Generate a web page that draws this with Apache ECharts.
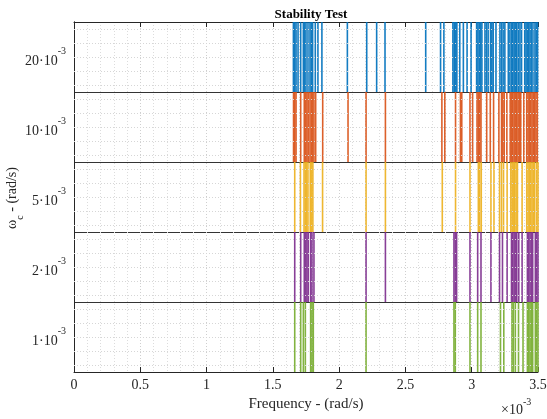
<!DOCTYPE html>
<html>
<head>
<meta charset="utf-8">
<script src="https://cdn.jsdelivr.net/npm/echarts@6/dist/echarts.min.js"></script>
<style>
  html, body { margin: 0; padding: 0; background: #fff; }
  #chart { width: 547px; height: 419px; }
</style>
</head>
<body>
<div id="chart"></div>
<script>
// frequencies in units of 1e-3 rad/s, one list per omega_c band
const bandLabels = ['1', '2', '5', '10', '20'];   // bottom -> top, x 10^-3
const bandColors = ['#77AC30', '#7E2F8E', '#EDB120', '#D95319', '#0072BD'];

const freq1 = [1.665, 1.71, 1.73, 1.745, 1.785, 1.795, 1.805, 2.203,
  2.866, 2.876, 2.987, 3.045, 3.07, 3.217, 3.242, 3.304, 3.314, 3.329, 3.353,
  3.387, 3.42, 3.43, 3.44, 3.45, 3.46, 3.48, 3.49, 3.5];
const freq2 = [1.665, 1.71, 1.737, 1.747, 1.757, 1.767, 1.785, 1.795, 1.81,
  2.203, 2.349, 2.866, 2.876, 2.886, 2.987, 3.045, 3.07, 3.145, 3.21, 3.232,
  3.267, 3.3, 3.31, 3.32, 3.33, 3.34, 3.355, 3.38, 3.42, 3.43, 3.44, 3.45,
  3.46, 3.48, 3.49, 3.5];
const freq5 = [1.665, 1.708, 1.735, 1.745, 1.755, 1.765, 1.782, 1.792, 1.802,
  1.875, 2.203, 2.349, 2.778, 2.878, 2.987, 3.05, 3.06, 3.072, 3.145, 3.168,
  3.21, 3.225, 3.24, 3.267, 3.295, 3.305, 3.315, 3.325, 3.335, 3.345, 3.38,
  3.415, 3.425, 3.435, 3.445, 3.455, 3.465, 3.475, 3.49, 3.5];
const freq10 = [1.656, 1.665, 1.675, 1.71, 1.737, 1.747, 1.757, 1.767, 1.78,
  1.79, 1.8, 1.81, 1.823, 1.876, 2.067, 2.203, 2.349, 2.775, 2.797, 2.878,
  2.915, 2.925, 2.987, 3.007, 3.04, 3.05, 3.06, 3.07, 3.113, 3.14, 3.165,
  3.205, 3.225, 3.235, 3.245, 3.265, 3.29, 3.3, 3.31, 3.32, 3.33, 3.34, 3.35,
  3.36, 3.37, 3.393, 3.415, 3.425, 3.435, 3.445, 3.455, 3.465, 3.475, 3.485, 3.495];
const freq20 = [1.655, 1.665, 1.675, 1.69, 1.71, 1.73, 1.74, 1.75, 1.765,
  1.78, 1.79, 1.8, 1.82, 1.84, 1.87, 2.062, 2.208, 2.283, 2.346, 2.653,
  2.765, 2.79, 2.858, 2.868, 2.878, 2.888, 2.91, 2.937, 2.965, 2.995, 3.037,
  3.047, 3.057, 3.067, 3.077, 3.1, 3.112, 3.124, 3.142, 3.152, 3.162, 3.183,
  3.213, 3.225, 3.237, 3.25, 3.276, 3.288, 3.3, 3.31, 3.32, 3.33, 3.34, 3.352,
  3.364, 3.376, 3.4, 3.41, 3.42, 3.43, 3.44, 3.45, 3.462, 3.477, 3.487, 3.497];

const bandFreqs = [freq1, freq2, freq5, freq10, freq20];
const xTicks = { min: 0, max: 3.5, step: 0.5 };
const minorGridY = [];
for (let b = 0; b < 5; b++) [0.1, 0.3, 0.5, 0.7, 0.9].forEach(o => minorGridY.push(b + o));

const serif = 'Liberation Serif';
const ink = '#262626';

const chart = echarts.init(document.getElementById('chart'));

const lineSeries = bandFreqs.map((fs, b) => ({
  type: 'custom',
  xAxisIndex: 0,
  yAxisIndex: 2,
  itemStyle: { color: bandColors[b] },
  data: fs.map(f => [f, b]),
  renderItem: function (params, api) {
    const f = api.value(0), band = api.value(1);
    const p0 = api.coord([f, band]);
    const p1 = api.coord([f, band + 1]);
    return {
      type: 'line',
      shape: { x1: p0[0], y1: p0[1], x2: p1[0], y2: p1[1] },
      style: { stroke: api.visual('color'), lineWidth: 1.6, opacity: 0.92 }
    };
  }
}));

const option = {
  animation: false,
  title: {
    text: 'Stability Test',
    left: 306,
    textAlign: 'center',
    top: 3,
    textStyle: { fontFamily: serif, fontSize: 13, fontWeight: 'bold', color: '#000' }
  },
  grid: { left: 74, right: 9, top: 22, bottom: 47, outerBoundsMode: 'none', containLabel: false },
  xAxis: [{
    type: 'value',
    position: 'bottom',
    min: xTicks.min, max: xTicks.max, interval: xTicks.step,
    axisLine: { lineStyle: { color: ink } },
    axisTick: { inside: true, length: 5, lineStyle: { color: ink } },
    axisLabel: { fontFamily: serif, fontSize: 14, color: ink, margin: 6 },
    splitLine: { show: true, lineStyle: { type: [1, 2], color: '#cfcfcf' } },
    minorTick: { show: false, splitNumber: 5 },
    minorSplitLine: { show: true, lineStyle: { type: [1, 2], color: '#dcdcdc' } },
    name: 'Frequency - (rad/s)',
    nameLocation: 'middle',
    nameGap: 25,
    nameTextStyle: { fontFamily: serif, fontSize: 15, color: ink }
  }, {
    type: 'value',
    position: 'top',
    min: xTicks.min, max: xTicks.max, interval: xTicks.step,
    axisLine: { lineStyle: { color: ink } },
    axisTick: { inside: true, length: 5, lineStyle: { color: ink } },
    axisLabel: { show: false },
    splitLine: { show: false }
  }],
  yAxis: [{
    type: 'category',
    position: 'left',
    data: bandLabels,
    boundaryGap: true,
    axisLine: { lineStyle: { color: ink } },
    axisTick: { inside: true, alignWithLabel: true, length: 5, lineStyle: { color: ink } },
    axisLabel: {
      margin: 8,
      formatter: v => '{m|' + v + '·10}{s|-3}',
      rich: {
        m: { fontFamily: serif, fontSize: 14, color: ink, lineHeight: 22, verticalAlign: 'bottom' },
        s: { fontFamily: serif, fontSize: 10, color: ink, lineHeight: 22, verticalAlign: 'top' }
      }
    },
    splitLine: { show: true, lineStyle: { color: '#333', width: 1.2 } }
  }, {
    type: 'category',
    position: 'right',
    data: bandLabels,
    boundaryGap: true,
    axisLine: { lineStyle: { color: ink } },
    axisTick: { inside: true, alignWithLabel: true, length: 5, lineStyle: { color: ink } },
    axisLabel: { show: false },
    splitLine: { show: false }
  }, {
    type: 'value',
    min: 0, max: 5,
    show: false
  }],
  graphic: [{
    type: 'text',
    left: 501,
    top: 397,
    style: {
      text: '{m|×10}{s|-3}',
      rich: {
        m: { fontFamily: serif, fontSize: 14, fill: ink, lineHeight: 20, verticalAlign: 'bottom' },
        s: { fontFamily: serif, fontSize: 10, fill: ink, lineHeight: 20, verticalAlign: 'top' }
      }
    }
  }, {
    // y-axis title, rotated
    type: 'text',
    x: 15,
    y: 198,
    rotation: Math.PI / 2,
    style: {
      text: '{a|ω}{c|c}{a| - (rad/s)}',
      align: 'center',
      verticalAlign: 'middle',
      rich: {
        a: { fontFamily: serif, fontSize: 14, fill: ink, lineHeight: 20, verticalAlign: 'top' },
        c: { fontFamily: serif, fontSize: 10, fill: ink, lineHeight: 20, verticalAlign: 'bottom' }
      }
    }
  }],
  series: [{
    type: 'line',
    xAxisIndex: 0,
    yAxisIndex: 2,
    data: [],
    markLine: {
      silent: true,
      symbol: 'none',
      label: { show: false },
      lineStyle: { type: [1, 2], color: '#d6d6d6', width: 1 },
      data: minorGridY.map(y => ({ yAxis: y }))
    }
  }].concat(lineSeries)
};

chart.setOption(option);
</script>
</body>
</html>
